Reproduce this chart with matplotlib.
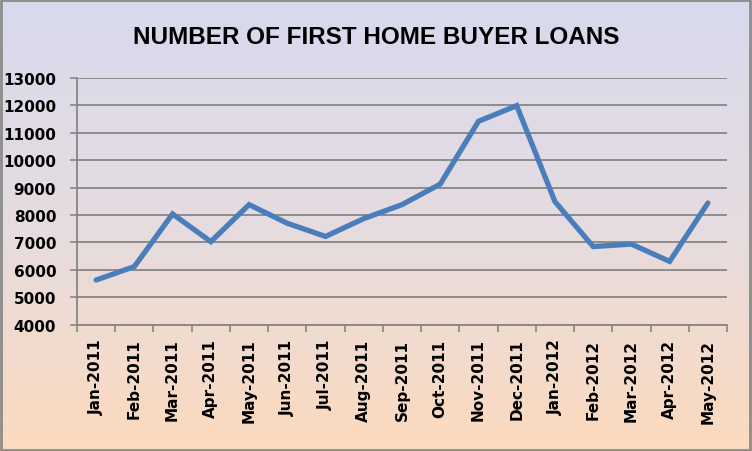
import matplotlib
matplotlib.use("Agg")
import matplotlib.pyplot as plt
import numpy as np
from matplotlib.colors import LinearSegmentedColormap
from matplotlib.patches import Rectangle

months = ["Jan-2011", "Feb-2011", "Mar-2011", "Apr-2011", "May-2011", "Jun-2011",
          "Jul-2011", "Aug-2011", "Sep-2011", "Oct-2011", "Nov-2011", "Dec-2011",
          "Jan-2012", "Feb-2012", "Mar-2012", "Apr-2012", "May-2012"]
loans = [5630, 6120, 8040, 7030, 8380, 7700, 7220, 7870, 8380, 9130, 11420, 11990,
         8490, 6850, 6940, 6310, 8440]
yticks = list(range(4000, 13001, 1000))

W, H = 752, 452
fig = plt.figure(figsize=(W / 100, H / 100), dpi=100)

# gradient background
bg = fig.add_axes([0, 0, 1, 1], zorder=0)
cmap = LinearSegmentedColormap.from_list("bg", ["#D8D9EE", "#E6DCE0", "#FCDABE"])
grad = np.linspace(0, 1, 256).reshape(-1, 1)
bg.imshow(grad, aspect="auto", cmap=cmap, extent=[0, 1, 0, 1], origin="upper")
bg.add_patch(Rectangle((0.001, 0.002), 0.997, 0.995, fill=False, edgecolor="#8C8C8C",
                       linewidth=2, transform=bg.transAxes))
bg.set_axis_off()

left, right = 77 / W, 727 / W
top, bottom = 79 / H, 325.7 / H
ax = fig.add_axes([left, 1 - bottom, right - left, bottom - top], zorder=1)
ax.patch.set_alpha(0)

x = np.arange(len(months))
ax.plot(x, loans, color="#4A7EBB", linewidth=3.8, solid_joinstyle="miter",
        solid_capstyle="round", zorder=3)

ax.set_xlim(-0.5, len(months) - 0.5)
ax.set_ylim(4000, 13000)
ax.set_yticks(yticks)
ax.set_yticklabels([str(v) for v in yticks], fontsize=11, fontweight="bold",
                   family="DejaVu Sans")
ax.set_xticks(x)
ax.set_xticklabels(months, rotation=90, fontsize=11, fontweight="bold",
                   family="DejaVu Sans")
ax.set_xticks(np.arange(-0.5, len(months), 1), minor=True)
ax.tick_params(axis="x", which="major", length=0, pad=10)
ax.tick_params(axis="x", which="minor", length=5, color="#868686", width=1.2,
               direction="out")
ax.tick_params(axis="y", length=5, color="#868686", width=1.2, direction="out", pad=10)

ax.grid(axis="y", color="#868686", linewidth=1.3, zorder=1)
ax.set_axisbelow(True)
for s in ["top", "right"]:
    ax.spines[s].set_visible(False)
for s in ["left", "bottom"]:
    ax.spines[s].set_color("#868686")
    ax.spines[s].set_linewidth(1.3)

fig.text(376 / W, 1 - 37 / H, "NUMBER OF FIRST HOME BUYER LOANS", ha="center",
         va="center", fontsize=17.5, fontweight="bold", family="Liberation Sans")

fig.savefig("out.png", dpi=100)
